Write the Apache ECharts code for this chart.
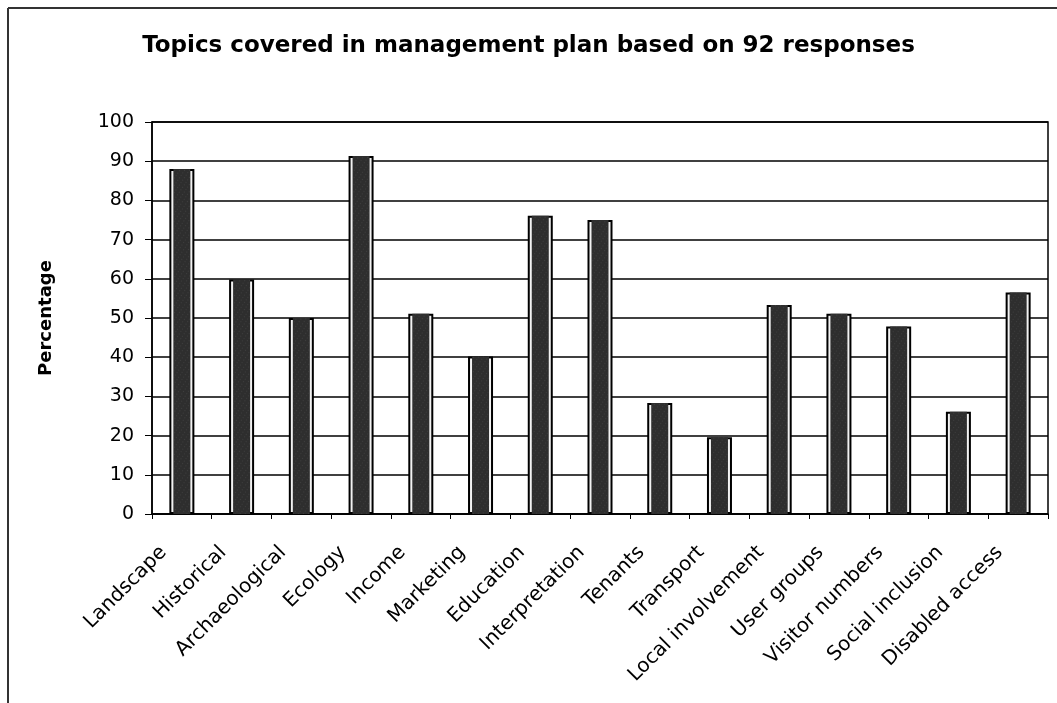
<!DOCTYPE html>
<html>
<head>
<meta charset="utf-8">
<script src="https://cdn.jsdelivr.net/npm/echarts@6/dist/echarts.min.js"></script>
<style>
html,body{margin:0;padding:0;background:#fff;}
#chart{width:1057px;height:703px;}
</style>
</head>
<body>
<div id="chart"></div>
<script>
const titleText = 'Topics covered in management plan based on 92 responses';
const yAxisName = 'Percentage';
const categories = ['Landscape','Historical','Archaeological','Ecology','Income','Marketing','Education','Interpretation','Tenants','Transport','Local involvement','User groups','Visitor numbers','Social inclusion','Disabled access'];
const percentages = [88.0, 59.8, 50.0, 91.3, 51.1, 40.2, 76.1, 75.0, 28.3, 19.6, 53.3, 51.1, 47.8, 26.1, 56.5];
const yTicks = [0,10,20,30,40,50,60,70,80,90,100];

const chart = echarts.init(document.getElementById('chart'), null, {renderer:'canvas'});
const grid = {left:152, right:9, top:122, bottom:189, show:true, borderColor:'#000', borderWidth:1.5, backgroundColor:'transparent'};
const xAxisBase = {
  type:'category', data:categories, boundaryGap:true
};
chart.setOption({
  animation:false,
  backgroundColor:'#fff',
  title:{
    text:titleText, left:'center', top:30,
    textStyle:{fontFamily:'DejaVu Sans', fontWeight:'bold', fontSize:23, color:'#000'}
  },
  grid:grid,
  xAxis:[
    Object.assign({}, xAxisBase, {
      axisLine:{show:true, lineStyle:{color:'#000', width:1.5}},
      axisTick:{show:true, inside:false, length:5, alignWithLabel:false, lineStyle:{color:'#000', width:1}},
      axisLabel:{rotate:45, interval:0, margin:17, padding:[0,26,0,0], fontFamily:'DejaVu Sans', fontSize:20, color:'#000'},
      splitLine:{show:false}
    }),
    Object.assign({}, xAxisBase, {
      show:false
    })
  ],
  yAxis:{
    type:'value', min:0, max:100, interval:10,
    name:yAxisName, nameLocation:'middle', nameGap:97,
    nameTextStyle:{fontFamily:'DejaVu Sans', fontWeight:'bold', fontSize:18, color:'#000'},
    axisLine:{show:true, lineStyle:{color:'#000', width:1.5}},
    axisTick:{show:true, length:7, lineStyle:{color:'#000', width:1}},
    axisLabel:{margin:18, fontFamily:'DejaVu Sans', fontSize:19, color:'#000',
      formatter:function(v){ return yTicks.indexOf(v) >= 0 ? String(v) : ''; }},
    splitLine:{show:true, lineStyle:{color:'#000', width:1.5}}
  },
  series:[
    {
      type:'bar', xAxisIndex:0, data:percentages, barWidth:25,
      itemStyle:{color:'#f2f2f2', borderColor:'#000', borderWidth:2},
      z:2
    },
    {
      type:'bar', xAxisIndex:1, data:percentages, barWidth:17,
      itemStyle:{color:'#2e2e2e',
        decal:{symbol:'rect', symbolSize:0.6, color:'rgba(200,200,200,0.35)', dashArrayX:[1,3], dashArrayY:[1,2], rotation:0.6}},
      z:3
    }
  ],
  graphic:[
    {type:'line', shape:{x1:8, y1:8, x2:1057, y2:8}, style:{stroke:'#333', lineWidth:2}, silent:true},
    {type:'line', shape:{x1:8, y1:8, x2:8, y2:703}, style:{stroke:'#333', lineWidth:2}, silent:true}
  ]
});
</script>
</body>
</html>
